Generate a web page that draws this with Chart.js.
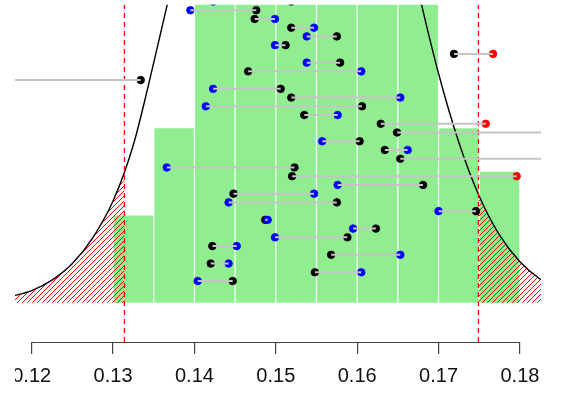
<!DOCTYPE html>
<html>
<head>
	<meta charset="utf-8">
	<title>Histogram with normal curve</title>
	<script src="https://cdn.jsdelivr.net/npm/chart.js@4.4.1/dist/chart.umd.min.js"></script>
	<style>
		body { margin: 0; background: #fff; }
		#wrap { width: 561px; height: 397px; }
	</style>
</head>
<body>
	<div id="wrap"><canvas id="myChart"></canvas></div>
	<script>
		// histogram: bin edges and counts
		var binEdges = [0.130, 0.135, 0.140, 0.145, 0.150, 0.155, 0.160, 0.165, 0.170, 0.175, 0.180];
		var binCounts = [2, 4, 10, 14, 17, 16, 13, 9, 4, 3];

		// normal curve, heights
		var curveX = [0.1175, 0.1200, 0.1225, 0.1250, 0.1275, 0.1300, 0.1325, 0.1350, 0.1375, 0.1400,
			0.1425, 0.1450, 0.1475, 0.1500, 0.1525, 0.1550, 0.1575, 0.1600, 0.1625, 0.1650,
			0.1675, 0.1700, 0.1725, 0.1750, 0.1775, 0.1800, 0.1825, 0.1850];
		var curveY = [0.15, 0.28, 0.52, 0.90, 1.49, 2.33, 3.62, 5.50, 7.50, 9.60,
			11.70, 13.70, 15.30, 16.40, 16.80, 16.43, 15.32, 13.61, 11.53, 9.30,
			7.16, 5.25, 3.67, 2.44, 1.55, 0.94, 0.54, 0.30];

		// red cut-off lines and the curve height where they cross it
		var cutX = [0.1314, 0.1749];
		var cutCurveY = [3.0, 2.48];

		// paired points, one row each: black point and the other (blue / red) point
		var rowY = [0.5, 0.7, 0.9, 1.1, 1.3, 1.5, 1.7, 1.9, 2.1, 2.3, 2.5, 2.7, 2.9, 3.1, 3.3, 3.5, 3.7,
			3.9, 4.1, 4.3, 4.5, 4.7, 4.9, 5.1, 5.3, 5.5, 5.7, 5.9, 6.1, 6.3, 6.5, 6.7, 6.9];
		var blackX = [0.1447, 0.1548, 0.1420, 0.1568, 0.1422, 0.1588, 0.1623, 0.1487, 0.1746, 0.1575,
			0.1448, 0.1681, 0.1520, 0.1523, 0.1653, 0.1634, 0.1603, 0.1649, 0.1629, 0.1535,
			0.1606, 0.1519, 0.1506, 0.1334, 0.1466, 0.1579, 0.1719, 0.1512, 0.1575, 0.1519,
			0.1474, 0.1476, 0.1519];
		var otherX = [0.1404, 0.1605, 0.1442, 0.1653, 0.1452, 0.1499, 0.1595, 0.1490, 0.1700, 0.1442,
			0.1547, 0.1576, 0.1796, 0.1366, 0.1900, 0.1662, 0.1557, 0.1900, 0.1758, 0.1576,
			0.1414, 0.1653, 0.1423, 0.1100, 0.1605, 0.1538, 0.1767, 0.1499, 0.1538, 0.1547,
			0.1499, 0.1395, 0.1423];
		var otherCol = ['b', 'b', 'b', 'b', 'b', 'b', 'b', 'b', 'b', 'b', 'b', 'b', 'r', 'b', 'r', 'b', 'b',
			'r', 'r', 'b', 'b', 'b', 'b', 'r', 'b', 'b', 'r', 'b', 'b', 'b', 'b', 'b', 'b'];

		// axis
		var tickVals = [0.12, 0.13, 0.14, 0.15, 0.16, 0.17, 0.18];
		var tickLabels = ['0.12', '0.13', '0.14', '0.15', '0.16', '0.17', '0.18'];
		var xMin = 0.11795, xMax = 0.18259, yMin = -0.896, yMax = 6.824;

		var bars = [];
		for (var i = 0; i < binCounts.length; i++) {
			bars.push({x: (binEdges[i] + binEdges[i + 1]) / 2, y: binCounts[i]});
		}

		var curve = curveX.map(function(x, i) { return {x: x, y: curveY[i]}; });
		var tailLow = curve.filter(function(p) { return p.x < cutX[0] - 0.0005; });
		tailLow.push({x: cutX[0], y: cutCurveY[0]});
		var tailHigh = [{x: cutX[1], y: cutCurveY[1]}].concat(
			curve.filter(function(p) { return p.x > cutX[1] + 0.0005; }));

		var segs = [], dots = [], dotCols = [];
		for (i = 0; i < rowY.length; i++) {
			segs.push({x: blackX[i], y: rowY[i]}, {x: otherX[i], y: rowY[i]}, {x: otherX[i], y: null});
			dots.push({x: blackX[i], y: rowY[i]});
			dotCols.push('#000000');
			dots.push({x: otherX[i], y: rowY[i]});
			dotCols.push(otherCol[i] === 'r' ? '#ff0000' : '#0000ff');
		}

		// red diagonal hatching
		function hatch() {
			var c = document.createElement('canvas');
			c.width = c.height = 5;
			var g = c.getContext('2d');
			g.strokeStyle = '#ff0000';
			g.lineWidth = 1;
			g.beginPath();
			g.moveTo(0, 5); g.lineTo(5, 0);
			g.moveTo(-1, 1); g.lineTo(1, -1);
			g.moveTo(4, 6); g.lineTo(6, 4);
			g.stroke();
			return g.createPattern(c, 'repeat');
		}
		var hatchFill = hatch();

		// tick label font: narrow if it is there
		function pickFont() {
			var g = document.createElement('canvas').getContext('2d');
			g.font = '22px "Liberation Sans Narrow", monospace';
			var w1 = g.measureText('0.13').width;
			g.font = '22px monospace';
			var w2 = g.measureText('0.13').width;
			if (Math.abs(w1 - w2) > 0.5) return {family: '"Liberation Sans Narrow"', size: 22};
			return {family: '"Liberation Sans", Arial', size: 20};
		}

		// clip left edge like the original, draw R style axis line between end ticks
		var rAxis = {
			id: 'rAxis',
			beforeDraw: function(chart) {
				var ctx = chart.ctx;
				ctx.save();
				ctx.beginPath();
				ctx.rect(chart.chartArea.left, 0, chart.width, chart.height);
				ctx.clip();
			},
			afterDraw: function(chart) {
				var ctx = chart.ctx, xs = chart.scales.x, yb = chart.chartArea.bottom;
				ctx.beginPath();
				ctx.moveTo(xs.getPixelForValue(tickVals[0]), yb + 0.5);
				ctx.lineTo(xs.getPixelForValue(tickVals[tickVals.length - 1]), yb + 0.5);
				ctx.strokeStyle = '#444';
				ctx.lineWidth = 1.2;
				ctx.stroke();
				ctx.restore();
			}
		};

		var cutLines = cutX.map(function(x) {
			return {
				type: 'line',
				data: [{x: x, y: yMin}, {x: x, y: yMax}],
				borderColor: '#ff0000',
				borderWidth: 1.3,
				borderDash: [5, 4],
				pointRadius: 0,
				order: 2
			};
		});

		var ctx = document.getElementById('myChart').getContext('2d');
		var myChart = new Chart(ctx, {
			type: 'bar',
			data: {
				datasets: [{
					type: 'line',
					data: segs,
					borderColor: '#c4c4c4',
					borderWidth: 2,
					pointRadius: 0,
					spanGaps: false,
					order: 0
				}, {
					type: 'scatter',
					data: dots,
					pointRadius: 3.8,
					pointBorderWidth: 0.8,
					pointBackgroundColor: dotCols,
					pointBorderColor: dotCols,
					order: 1
				}].concat(cutLines).concat([{
					type: 'line',
					data: curve,
					borderColor: '#000000',
					borderWidth: 1.4,
					pointRadius: 0,
					cubicInterpolationMode: 'monotone',
					order: 3
				}, {
					type: 'line',
					data: tailLow,
					borderWidth: 0,
					pointRadius: 0,
					cubicInterpolationMode: 'monotone',
					fill: 'origin',
					backgroundColor: hatchFill,
					order: 4
				}, {
					type: 'line',
					data: tailHigh,
					borderWidth: 0,
					pointRadius: 0,
					cubicInterpolationMode: 'monotone',
					fill: 'origin',
					backgroundColor: hatchFill,
					order: 4
				}, {
					type: 'bar',
					data: bars,
					backgroundColor: '#90ee90',
					borderWidth: 0,
					barPercentage: 0.97,
					categoryPercentage: 1,
					order: 5
				}])
			},
			options: {
				responsive: true,
				maintainAspectRatio: false,
				animation: false,
				layout: { padding: { left: 15, right: 20, top: 0, bottom: 0 } },
				scales: {
					x: {
						type: 'linear',
						offset: false,
						min: xMin,
						max: xMax,
						afterBuildTicks: function(scale) {
							scale.ticks = tickVals.map(function(v) { return {value: v}; });
						},
						afterFit: function(scale) {
							scale.height = 55;
							scale.paddingLeft = 0;
							scale.paddingRight = 0;
						},
						border: { display: false },
						grid: {
							offset: false,
							drawOnChartArea: false,
							drawTicks: true,
							tickLength: 12,
							color: '#444',
							lineWidth: 1.2
						},
						ticks: {
							autoSkip: false,
							maxRotation: 0,
							padding: 10,
							color: '#111',
							font: pickFont(),
							callback: function(value, index) { return tickLabels[index]; }
						}
					},
					y: {
						type: 'linear',
						display: false,
						min: yMin,
						max: yMax
					}
				},
				plugins: {
					legend: { display: false },
					tooltip: { enabled: false }
				}
			},
			plugins: [rAxis]
		});
	</script>
</body>
</html>
